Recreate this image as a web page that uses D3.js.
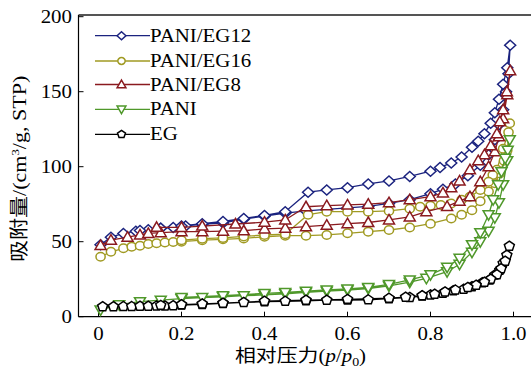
<!DOCTYPE html>
<html>
<head>
<meta charset="utf-8">
<script src="https://cdn.jsdelivr.net/npm/d3@7"></script>
<style>
  body { margin: 0; background: #fff; }
  text { font-family: "Liberation Serif", "Noto Sans CJK SC", serif; fill: #000; }
</style>
</head>
<body>
<script>
// Step 1: the data (adsorption then desorption branch for each sample)
//= ================================
var seriesNames = ["PANI/EG12", "PANI/EG16", "PANI/EG8", "PANI", "EG"];

var eg12AdsP = [0.005,0.03,0.06,0.09,0.12,0.15,0.18,0.21,0.25,0.3,0.35,0.4,0.45,0.5,0.55,0.6,0.65,0.7,0.75,0.8,0.83,0.86,0.89,0.92,0.94,0.955,0.965,0.975,0.982,0.988,0.992];
var eg12AdsV = [48,53,55.5,57,58,59,59.5,60.5,61.5,62.5,65,67,69,70.5,71.5,72.5,73.5,75.5,78,82,85,88.5,94,101,108,118,128,138,150,162,181];
var eg12DesP = [0.985,0.975,0.965,0.955,0.945,0.93,0.915,0.9,0.875,0.85,0.823,0.8,0.75,0.7,0.65,0.6,0.55,0.505,0.45,0.4,0.35,0.3,0.25,0.2,0.15,0.1];
var eg12DesV = [166,155,145,136,129,122,117,113,106.5,102.5,99.5,97,93.5,90.5,88.5,86,84.5,83,70,67.5,65.5,63.5,62,60.5,59,57.5];

var eg16AdsP = [0.005,0.03,0.06,0.08,0.1,0.12,0.14,0.16,0.18,0.2,0.25,0.3,0.35,0.4,0.45,0.5,0.55,0.6,0.65,0.7,0.75,0.8,0.85,0.875,0.9,0.92,0.94,0.955,0.967,0.977,0.985,0.991];
var eg16AdsV = [40,43.3,45.6,46.7,47.3,48.5,49,49.5,49.8,50,51,51.6,52.2,53.3,54,54,54.5,55.6,56.7,57.8,59.5,62,65.5,68,71,77,83.5,89,95.5,104,111,129];
var eg16DesP = [0.988,0.975,0.96,0.95,0.94,0.92,0.895,0.875,0.85,0.825,0.8,0.775,0.75,0.7,0.65,0.6,0.55,0.505,0.45,0.4,0.35,0.3,0.25,0.2];
var eg16DesV = [123,112,98,94.5,90,84.5,80,78,75.5,74.5,74,73.3,72,70.5,70,70,70,68,55,54.5,53.5,52.5,52,51];

var eg8AdsP = [0.005,0.03,0.07,0.1,0.12,0.15,0.2,0.25,0.3,0.35,0.4,0.45,0.5,0.55,0.6,0.65,0.7,0.75,0.79,0.84,0.87,0.895,0.92,0.94,0.955,0.965,0.975,0.985,0.992];
var eg8AdsV = [47.5,51,53,54.5,55.5,56,56.7,56.7,57,57.3,58.5,59,60,61,62,62.8,64.5,66.5,70,73.5,77,80,90,100,110,120,132,148,164];
var eg8DesP = [0.984,0.975,0.967,0.96,0.945,0.93,0.915,0.895,0.87,0.85,0.83,0.8,0.75,0.7,0.65,0.6,0.55,0.5,0.45,0.4,0.33,0.25,0.2,0.14];
var eg8DesV = [150,138,130,122,114,108,104,98,90.5,86,82.5,80,78,76,75,74.5,74,73.3,64.5,63,61.8,60.4,59.5,59.6];

var paniAdsP = [0.005,0.05,0.1,0.15,0.2,0.25,0.3,0.35,0.4,0.45,0.5,0.55,0.6,0.65,0.7,0.75,0.79,0.84,0.87,0.9,0.92,0.94,0.955,0.965,0.975,0.985,0.991];
var paniAdsV = [4.5,8,10,11,12,12.8,13.3,14,14.5,15.3,16.3,17,17.8,18.8,20.5,23,25.6,30,35,43,50,57,66,76,88,104,118];
var paniDesP = [0.986,0.98,0.971,0.963,0.951,0.94,0.92,0.9,0.87,0.84,0.8,0.75,0.7,0.65,0.6,0.55,0.5,0.45,0.4,0.3,0.2];
var paniDesV = [111,105.6,96.7,88,78,68,56,48,39,33,28,24.5,21.5,19.5,18.5,17.8,17,16.2,15.5,14,12.8];

var egAdsP = [0.01,0.036,0.06,0.08,0.1,0.12,0.14,0.16,0.18,0.2,0.25,0.3,0.35,0.4,0.45,0.5,0.55,0.6,0.65,0.7,0.75,0.78,0.8,0.83,0.855,0.88,0.9,0.925,0.943,0.955,0.967,0.975,0.984,0.99];
var egAdsV = [6.7,6.7,6.8,6.8,7,7,7.2,7.2,7.4,7.8,8.2,8.9,9.5,10,10.3,10.6,11,11.1,11.3,12,12.9,13.8,14.5,15.6,17.3,18.3,20,22.7,24.5,27.8,31,35.6,41,47];
var egDesP = [0.98,0.97,0.96,0.945,0.93,0.91,0.89,0.86,0.835,0.81,0.78,0.74,0.7,0.6,0.5,0.4,0.3,0.25,0.2,0.15];
var egDesV = [37,32,28,25,23,21,19.5,17.8,16.5,15,14,13,12.3,11.6,11,10.3,9,8.5,8,7.6];

var xTicks = [0, 0.2, 0.4, 0.6, 0.8, 1.0];
var yTicks = [0, 50, 100, 150, 200];

// join both branches into one list of points per sample
function branch(p1, v1, p2, v2) {
  var pts = p1.map(function(p, i) { return [p, v1[i]]; });
  return pts.concat(p2.map(function(p, i) { return [p, v2[i]]; }));
}

var series = [
  {name: seriesNames[0], color: "#1b237f", shape: "diamond",  pts: branch(eg12AdsP, eg12AdsV, eg12DesP, eg12DesV)},
  {name: seriesNames[1], color: "#a09a22", shape: "circle",   pts: branch(eg16AdsP, eg16AdsV, eg16DesP, eg16DesV)},
  {name: seriesNames[2], color: "#8a1a1f", shape: "triUp",    pts: branch(eg8AdsP, eg8AdsV, eg8DesP, eg8DesV)},
  {name: seriesNames[3], color: "#4f982a", shape: "triDown",  pts: branch(paniAdsP, paniAdsV, paniDesP, paniDesV)},
  {name: seriesNames[4], color: "#000000", shape: "pentagon", pts: branch(egAdsP, egAdsV, egDesP, egDesV)}
];

// Step 2: chart setup
//= ================================
var W = 531, H = 369;
var plotLeft = 78.5, plotTop = 15, plotBottom = 316.7;
var STRETCH = 1.16;   // the reference text is a bit wider than normal

var svg = d3.select("body").append("svg")
    .attr("width", W)
    .attr("height", H);

var x = d3.scaleLinear().domain([0, 1]).range([98.5, 513.5]);
var y = d3.scaleLinear().domain([0, 200]).range([316.7, 16.7]);

function shapePath(shape, s) {
  var r = 5 * s;
  if (shape === "diamond") return "M0," + (-r) + "L" + (r * 1.1) + ",0L0," + r + "L" + (-r * 1.1) + ",0Z";
  if (shape === "triUp") return "M0," + (-r * 1.1) + "L" + (r * 1.1) + "," + (r * 0.8) + "L" + (-r * 1.1) + "," + (r * 0.8) + "Z";
  if (shape === "triDown") return "M0," + (r * 1.1) + "L" + (r * 1.1) + "," + (-r * 0.8) + "L" + (-r * 1.1) + "," + (-r * 0.8) + "Z";
  if (shape === "pentagon") {
    var pts = d3.range(5).map(function(i) {
      var a = -Math.PI / 2 + i * 2 * Math.PI / 5;
      return [r * 1.05 * Math.cos(a), r * Math.sin(a)];
    });
    return "M" + pts.join("L") + "Z";
  }
  var c = r * 0.85;
  return "M" + (-c * 1.08) + ",0a" + (c * 1.08) + "," + c + " 0 1,0 " + (2 * c * 1.08) + ",0a" + (c * 1.08) + "," + c + " 0 1,0 " + (-2 * c * 1.08) + ",0Z";
}

// text helper, stretched horizontally like the reference
function label(txt, px, py, anchor, size, rot) {
  var t = svg.append("text")
      .attr("text-anchor", anchor)
      .style("font-size", size + "px")
      .attr("transform", "translate(" + px + "," + py + ")" + (rot ? " rotate(" + rot + ")" : "") + " scale(" + STRETCH + ",1)");
  return t.text(txt);
}

// Step 3: frame and axes
//= ================================
svg.append("line")
    .attr("x1", plotLeft).attr("x2", W).attr("y1", plotTop).attr("y2", plotTop)
    .attr("stroke", "#555").attr("stroke-width", 2);
svg.append("line")
    .attr("x1", plotLeft).attr("x2", plotLeft).attr("y1", plotTop).attr("y2", plotBottom)
    .attr("stroke", "#000").attr("stroke-width", 1.2);
svg.append("line")
    .attr("x1", plotLeft).attr("x2", W).attr("y1", plotBottom).attr("y2", plotBottom)
    .attr("stroke", "#000").attr("stroke-width", 1.2);

svg.selectAll(".xt").data(xTicks).enter().append("line")
    .attr("x1", function(d) { return x(d); }).attr("x2", function(d) { return x(d); })
    .attr("y1", plotBottom).attr("y2", plotBottom - 5)
    .attr("stroke", "#000").attr("stroke-width", 1);
svg.selectAll(".yt").data(yTicks).enter().append("line")
    .attr("x1", plotLeft).attr("x2", plotLeft + 5)
    .attr("y1", function(d) { return y(d); }).attr("y2", function(d) { return y(d); })
    .attr("stroke", "#000").attr("stroke-width", 1);

xTicks.forEach(function(d) {
  label(d3.format(".1f")(d).replace(/^0\.0$/, "0"), x(d), 340, "middle", 18);
});
yTicks.forEach(function(d) {
  label(String(d), 72, y(d) + 6, "end", 18);
});

// axis titles
var xt = label("相对压力(", 235, 362, "start", 18);
xt.text("");
xt.append("tspan").text("相对压力(");
xt.append("tspan").style("font-style", "italic").text("p");
xt.append("tspan").text("/");
xt.append("tspan").style("font-style", "italic").text("p");
xt.append("tspan").attr("dy", 4).style("font-size", "12px").text("0");
xt.append("tspan").attr("dy", -4).text(")");

var yt = label("", 26, 262, "start", 19, -90);
yt.append("tspan").text("吸附量/(cm");
yt.append("tspan").attr("dy", -7).style("font-size", "11px").text("3");
yt.append("tspan").attr("dy", 7).text("/g, STP)");

// Step 4: the series
//= ================================
var line = d3.line()
    .x(function(d) { return x(d[0]); })
    .y(function(d) { return y(d[1]); });

var g = svg.append("g");
series.forEach(function(s) {
  g.append("path")
      .attr("d", line(s.pts))
      .attr("fill", "none")
      .attr("stroke", s.color)
      .attr("stroke-width", 1.3);
  g.selectAll(null).data(s.pts).enter().append("path")
      .attr("d", shapePath(s.shape, 1))
      .attr("transform", function(d) { return "translate(" + x(d[0]) + "," + y(d[1]) + ")"; })
      .attr("fill", "#fff")
      .attr("stroke", s.color)
      .attr("stroke-width", 1.5);
});

// Step 5: legend
//= ================================
var legendY = [35.7, 61, 84.5, 109.3, 134.3];
series.forEach(function(s, i) {
  var ly = legendY[i];
  svg.append("line")
      .attr("x1", 95).attr("x2", 150).attr("y1", ly).attr("y2", ly)
      .attr("stroke", s.color).attr("stroke-width", 1.3);
  svg.append("path")
      .attr("d", shapePath(s.shape, 0.8))
      .attr("transform", "translate(121.5," + ly + ")")
      .attr("fill", "#fff")
      .attr("stroke", s.color)
      .attr("stroke-width", 1.5);
  label(s.name, 150, ly + 6, "start", 18);
});
</script>
</body>
</html>
